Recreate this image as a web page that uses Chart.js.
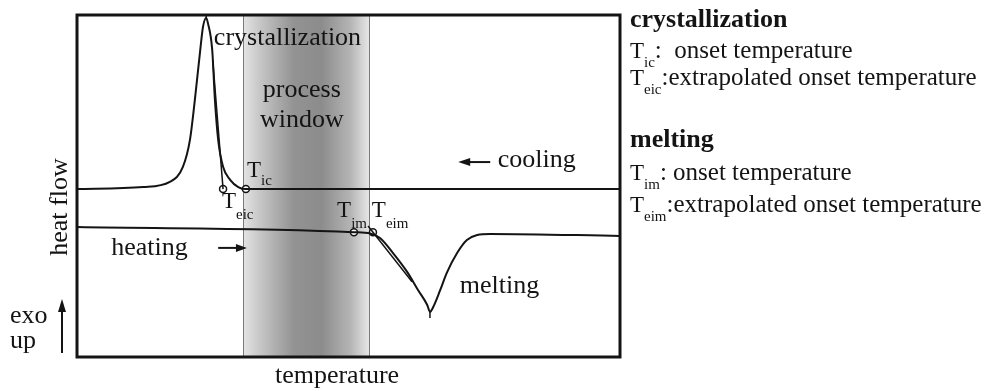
<!DOCTYPE html>
<html>
<head>
<meta charset="utf-8">
<script src="https://cdn.jsdelivr.net/npm/chart.js@4.4.1/dist/chart.umd.min.js"></script>
<style>
  html, body { margin: 0; padding: 0; background: #fff; }
  canvas { display: block; }
</style>
</head>
<body>
<canvas id="dsc-chart" width="994" height="391"></canvas>
<script>
// Courbe de refroidissement (pic de cristallisation)
const coolingTemp = [0, 12.2, 17.1, 19.5, 20.8, 21.7, 22.7, 23.2, 23.8, 24.1, 24.9, 25.4, 26.0, 26.9, 28.2, 29.7, 31.1, 100];
const coolingFlow = [49.1, 49.7, 51.2, 55.6, 63.5, 75.1, 89.8, 96.5, 99.1, 97.7, 89.8, 75.1, 63.5, 55.6, 51.8, 49.7, 49.1, 49.1];

// Courbe de chauffe (pic de fusion)
const heatingTemp = [0, 51.0, 54.0, 55.8, 58.2, 60.8, 62.8, 64.5, 65.0, 65.6, 66.9, 68.1, 70.0, 71.8, 73.7, 76.1, 100];
const heatingFlow = [38.0, 36.5, 36.1, 34.8, 30.4, 24.9, 19.6, 15.2, 13.2, 14.6, 19.6, 24.6, 30.4, 34.2, 35.7, 36.0, 35.4];

// Tangentes (onset extrapolé)
const crystTangentTemp = [25.0, 26.9];
const crystTangentFlow = [86.8, 49.1];
const meltTangentTemp = [53.6, 61.7];
const meltTangentFlow = [38.3, 22.0];

// Petits traits au sommet des pics
const crystPeakTemp = [23.8, 23.8];
const crystPeakFlow = [99.1, 100];
const meltPeakTemp = [65.0, 65.0];
const meltPeakFlow = [13.2, 11.4];

// Points onset : Teic, Tic, Tim, Teim
const onsetNames = ['eic', 'ic', 'im', 'eim'];
const onsetTemp = [26.9, 31.1, 51.0, 54.5];
const onsetFlow = [49.1, 49.1, 36.5, 36.5];

// Fenêtre de procédé
const windowRange = [30.6, 53.8];

const SERIF = '"Liberation Serif", "Times New Roman", serif';
const INK = '#141414';

function toPoints(xs, ys) {
    return xs.map((x, i) => ({ x: x, y: ys[i] }));
}

function lineSet(xs, ys, width, smooth) {
    return {
        data: toPoints(xs, ys),
        showLine: true,
        borderColor: INK,
        borderWidth: width,
        pointRadius: 0,
        cubicInterpolationMode: smooth ? 'monotone' : 'default',
        tension: 0
    };
}

function drawArrow(ctx, x1, y1, x2, y2, headLen, headHalf) {
    const ang = Math.atan2(y2 - y1, x2 - x1);
    ctx.beginPath();
    ctx.moveTo(x1, y1);
    ctx.lineTo(x2 - Math.cos(ang) * headLen * 0.6, y2 - Math.sin(ang) * headLen * 0.6);
    ctx.stroke();
    ctx.beginPath();
    ctx.moveTo(x2, y2);
    ctx.lineTo(x2 - Math.cos(ang) * headLen - Math.sin(ang) * headHalf, y2 - Math.sin(ang) * headLen + Math.cos(ang) * headHalf);
    ctx.lineTo(x2 - Math.cos(ang) * headLen + Math.sin(ang) * headHalf, y2 - Math.sin(ang) * headLen - Math.cos(ang) * headHalf);
    ctx.closePath();
    ctx.fill();
}

// T avec indice, renvoie la position x de fin
function drawSubT(ctx, x, y, sub, tSize, subSize, drop) {
    ctx.textAlign = 'left';
    ctx.font = tSize + 'px ' + SERIF;
    ctx.fillText('T', x, y);
    const w = ctx.measureText('T').width;
    ctx.font = subSize + 'px ' + SERIF;
    ctx.fillText(sub, x + w, y + drop);
    return x + w + ctx.measureText(sub).width;
}

const processWindowPlugin = {
    id: 'processWindow',
    beforeDatasetsDraw(chart) {
        const { ctx, chartArea, scales } = chart;
        const x0 = scales.x.getPixelForValue(windowRange[0]);
        const x1 = scales.x.getPixelForValue(windowRange[1]);
        const grad = ctx.createLinearGradient(x0, 0, x1, 0);
        grad.addColorStop(0, '#e4e4e4');
        grad.addColorStop(0.12, '#c9c9c9');
        grad.addColorStop(0.4, '#939393');
        grad.addColorStop(0.62, '#8c8c8c');
        grad.addColorStop(0.85, '#b4b4b4');
        grad.addColorStop(1, '#e6e6e6');
        ctx.save();
        ctx.fillStyle = grad;
        ctx.fillRect(x0, chartArea.top, x1 - x0, chartArea.bottom - chartArea.top);
        ctx.strokeStyle = '#7a7a7a';
        ctx.lineWidth = 1;
        ctx.beginPath();
        ctx.moveTo(Math.round(x0) + 0.5, chartArea.top);
        ctx.lineTo(Math.round(x0) + 0.5, chartArea.bottom);
        ctx.moveTo(Math.round(x1) + 0.5, chartArea.top);
        ctx.lineTo(Math.round(x1) + 0.5, chartArea.bottom);
        ctx.stroke();
        ctx.restore();
    }
};

const annotationsPlugin = {
    id: 'annotations',
    afterDraw(chart) {
        const { ctx, chartArea, scales } = chart;
        const px = v => scales.x.getPixelForValue(v);
        const py = v => scales.y.getPixelForValue(v);
        ctx.save();

        // cadre
        ctx.strokeStyle = INK;
        ctx.lineWidth = 3;
        ctx.strokeRect(chartArea.left, chartArea.top, chartArea.right - chartArea.left, chartArea.bottom - chartArea.top);

        ctx.fillStyle = INK;
        ctx.strokeStyle = INK;
        ctx.textBaseline = 'alphabetic';

        // textes dans le graphe
        ctx.font = '26px ' + SERIF;
        ctx.textAlign = 'left';
        ctx.fillText('crystallization', px(25.2), py(91.2));
        ctx.textAlign = 'center';
        ctx.fillText('process', px(41.4), py(76.0));
        ctx.fillText('window', px(41.4), py(67.3));
        ctx.textAlign = 'left';
        ctx.fillText('cooling', px(77.5), py(55.6));
        ctx.fillText('heating', px(6.3), py(29.8));
        ctx.fillText('melting', px(70.5), py(18.7));

        // étiquettes T
        drawSubT(ctx, px(31.3), py(52.6), 'ic', 23, 15, 8);
        drawSubT(ctx, px(26.7), py(43.6), 'eic', 23, 15, 11);
        drawSubT(ctx, px(47.9), py(40.9), 'im', 23, 15, 11);
        drawSubT(ctx, px(54.3), py(40.9), 'eim', 23, 15, 11);

        // flèches cooling / heating
        ctx.lineWidth = 2;
        drawArrow(ctx, px(76.1), py(57.0), px(70.2), py(57.0), 12, 4);
        drawArrow(ctx, px(26.0), py(31.9), px(31.3), py(31.9), 11, 4);

        // axes
        ctx.font = '26px ' + SERIF;
        ctx.textAlign = 'center';
        ctx.fillText('temperature', 337, 383);
        ctx.save();
        ctx.translate(67, 207);
        ctx.rotate(-Math.PI / 2);
        ctx.fillText('heat flow', 0, 0);
        ctx.restore();
        ctx.textAlign = 'left';
        ctx.fillText('exo', 10, 323);
        ctx.fillText('up', 10, 348);
        ctx.lineWidth = 2;
        drawArrow(ctx, 62, 353, 62, 299, 13, 4);

        // légende à droite
        ctx.font = 'bold 26px ' + SERIF;
        ctx.fillText('crystallization', 630, 27);
        ctx.fillText('melting', 630, 147);

        const body = '25px ' + SERIF;
        let x = drawSubT(ctx, 630, 58, 'ic', 23, 15, 9);
        ctx.font = body;
        ctx.fillText(':  onset temperature', x, 58);
        x = drawSubT(ctx, 630, 85, 'eic', 23, 15, 9);
        ctx.font = body;
        ctx.fillText(':extrapolated onset temperature', x, 85);
        x = drawSubT(ctx, 630, 180, 'im', 23, 15, 9);
        ctx.font = body;
        ctx.fillText(': onset temperature', x, 180);
        x = drawSubT(ctx, 630, 212, 'eim', 23, 15, 9);
        ctx.font = body;
        ctx.fillText(':extrapolated onset temperature', x, 212);

        ctx.restore();
    }
};

new Chart(document.getElementById('dsc-chart'), {
    type: 'scatter',
    data: {
        datasets: [
            lineSet(coolingTemp, coolingFlow, 2, true),
            lineSet(heatingTemp, heatingFlow, 2, true),
            lineSet(crystTangentTemp, crystTangentFlow, 1.5, false),
            lineSet(meltTangentTemp, meltTangentFlow, 1.5, false),
            lineSet(crystPeakTemp, crystPeakFlow, 1.5, false),
            lineSet(meltPeakTemp, meltPeakFlow, 1.5, false),
            {
                label: 'onset',
                data: toPoints(onsetTemp, onsetFlow),
                showLine: false,
                pointRadius: 3.5,
                pointBackgroundColor: '#ffffff',
                pointBorderColor: INK,
                pointBorderWidth: 1.5
            }
        ]
    },
    options: {
        responsive: false,
        animation: false,
        events: [],
        devicePixelRatio: 1,
        layout: {
            padding: { left: 77, top: 15, right: 374, bottom: 34 }
        },
        scales: {
            x: { type: 'linear', min: 0, max: 100, display: false },
            y: { type: 'linear', min: 0, max: 100, display: false }
        },
        plugins: {
            legend: { display: false },
            tooltip: { enabled: false }
        }
    },
    plugins: [processWindowPlugin, annotationsPlugin]
});
</script>
</body>
</html>
